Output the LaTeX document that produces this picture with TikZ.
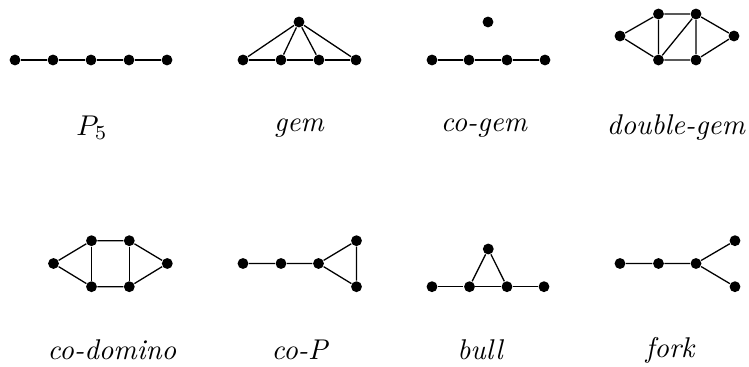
\documentclass[tikz,border=0pt]{standalone}
\begin{document}
\begin{tikzpicture}[x=0.35pt,y=-0.35pt,
  vtx/.style={circle,fill=black,inner sep=0pt,minimum size=3.8pt},
  edge/.style={line width=0.45pt},
  lbl/.style={font=\itshape}]
\useasboundingbox (0,0) rectangle (749,367);
% P5
\foreach \i/\x in {1/15,2/53,3/91,4/129,5/167}{\node[vtx] (p\i) at (\x,60) {};}
\draw[edge] (p1)--(p2)--(p3)--(p4)--(p5);
\node (lp) at (92,128) {$P_5$};
% gem
\foreach \i/\x in {1/243,2/281,3/319,4/356}{\node[vtx] (g\i) at (\x,60) {};}
\node[vtx] (gt) at (299,22) {};
\draw[edge] (g1)--(g2)--(g3)--(g4);
\foreach \i in {1,2,3,4}{\draw[edge] (gt)--(g\i);}
\node[lbl] (lg) at (299,128) {gem};
% co-gem
\foreach \i/\x in {1/432,2/469,3/507,4/545}{\node[vtx] (c\i) at (\x,60) {};}
\node[vtx] (ct) at (488,22) {};
\draw[edge] (c1)--(c2)--(c3)--(c4);
\node[lbl] (lc) at (484,128) {co-gem};
% double-gem
\node[vtx] (dl) at (620,36) {};
\node[vtx] (dtl) at (658.5,14) {};
\node[vtx] (dtr) at (696,14) {};
\node[vtx] (dr) at (734,36) {};
\node[vtx] (dbl) at (658.5,60) {};
\node[vtx] (dbr) at (696,60) {};
\draw[edge] (dl)--(dtl)--(dtr)--(dr)--(dbr)--(dbl)--(dl);
\draw[edge] (dtl)--(dbl)--(dtr)--(dbr);
\node[lbl] (ld) at (676,128) {double-gem};
% co-domino
\node[vtx] (ml) at (53.5,263.5) {};
\node[vtx] (mtl) at (91.5,240.7) {};
\node[vtx] (mtr) at (129.3,240.7) {};
\node[vtx] (mr) at (167.3,263.5) {};
\node[vtx] (mbl) at (91.5,286.7) {};
\node[vtx] (mbr) at (129.3,286.7) {};
\draw[edge] (ml)--(mtl)--(mtr)--(mr)--(mbr)--(mbl)--(ml);
\draw[edge] (mtl)--(mbl) (mtr)--(mbr);
\node[lbl] (lm) at (112,350) {co-domino};
% co-P
\node[vtx] (q1) at (243,263.5) {};
\node[vtx] (q2) at (281,263.5) {};
\node[vtx] (q3) at (318.5,263.5) {};
\node[vtx] (qt) at (356.5,240.7) {};
\node[vtx] (qb) at (356.5,286.7) {};
\draw[edge] (q1)--(q2)--(q3)--(qt)--(qb)--(q3);
\node[lbl] (lq) at (299.5,350) {co-P};
% bull
\foreach \i/\x in {1/432,2/469.5,3/507,4/544}{\node[vtx] (b\i) at (\x,286.7) {};}
\node[vtx] (bt) at (488.3,249) {};
\draw[edge] (b1)--(b2)--(b3)--(b4);
\draw[edge] (b2)--(bt)--(b3);
\node[lbl] (lb) at (480,350) {bull};
% fork
\node[vtx] (f1) at (620,263.5) {};
\node[vtx] (f2) at (658.5,263.5) {};
\node[vtx] (f3) at (696,263.5) {};
\node[vtx] (ft) at (735,240.7) {};
\node[vtx] (fb) at (735,286.7) {};
\draw[edge] (f1)--(f2)--(f3)--(ft) (f3)--(fb);
\node[lbl] (lf) at (670,350) {fork};
\end{tikzpicture}
\end{document}
